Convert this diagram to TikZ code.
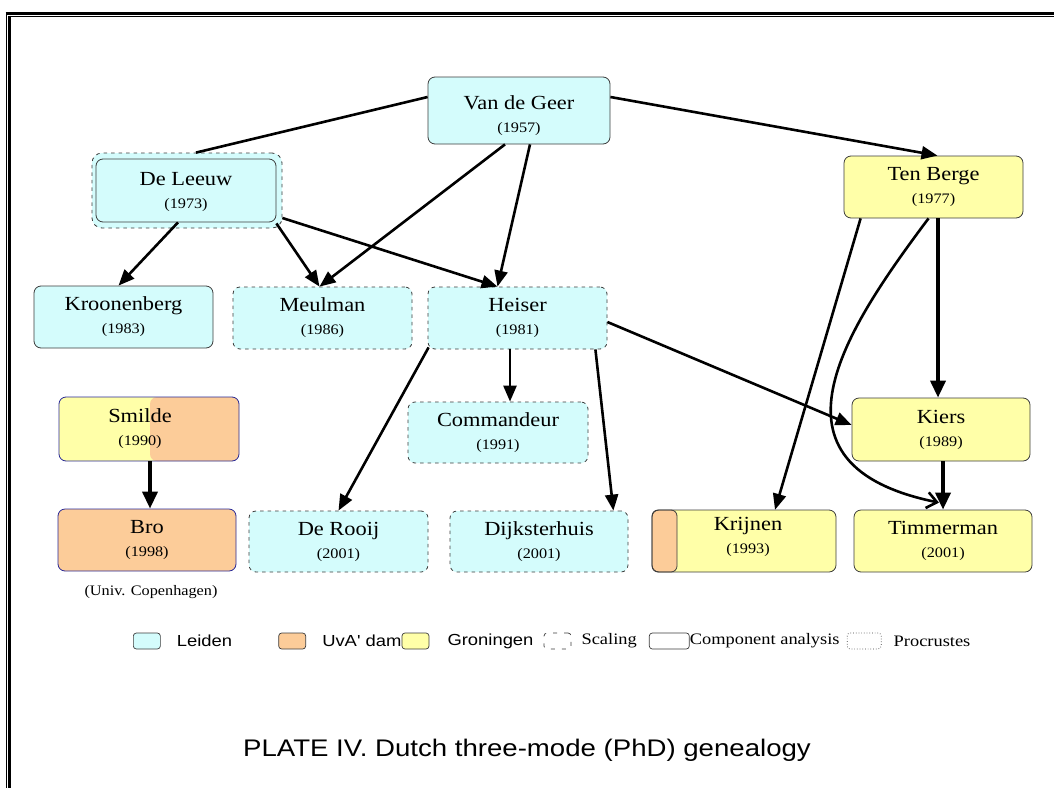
\documentclass[tikz,border=0pt]{standalone}
\usepackage{fontspec}
\setmainfont{Liberation Serif}
\newfontfamily\nmfam[FakeStretch=1.12]{Liberation Serif}
\newfontfamily\lgsans[FakeStretch=1.15]{Liberation Sans}
\newfontfamily\lgser[FakeStretch=1.15]{Liberation Serif}
\usetikzlibrary{arrows.meta,calc}
\definecolor{cyf}{RGB}{212,252,252}
\definecolor{yef}{RGB}{255,255,168}
\definecolor{orf}{RGB}{252,204,153}
\definecolor{navyb}{RGB}{40,40,150}
\definecolor{grb}{RGB}{60,60,60}
\newcommand{\nm}[2]{#1\\{\fontsize{14.5}{17}\selectfont #2}}
\begin{document}
\begin{tikzpicture}[x=1pt,y=-1pt,
  txt/.style={align=center,inner sep=0pt,font=\nmfam\fontsize{20}{23}\selectfont},
  box/.style={rectangle,rounded corners=7pt,txt},
  cy/.style={fill=cyf},
  ye/.style={fill=yef},
  orb/.style={fill=orf},
  comp/.style={draw=grb,line width=0.8pt},
  scal/.style={draw=grb,line width=0.8pt,dash pattern=on 3.5pt off 4pt},
  nav/.style={draw=navyb,line width=0.8pt},
  conn/.style={line width=2.6pt},
  arr/.style={conn,-{Triangle[length=16pt,width=13pt]}},
  tarr/.style={line width=3.6pt,-{Triangle[length=17pt,width=15pt]}},
  lgbox/.style={rectangle,rounded corners=3pt,minimum width=27pt,minimum height=16pt,inner sep=0pt,anchor=west},
  lgserf/.style={anchor=west,inner sep=0pt,font=\lgser\fontsize{16}{18}\selectfont},
  lgsan/.style={anchor=west,inner sep=0pt,font=\lgsans\fontsize{16}{18}\selectfont}
]
\useasboundingbox (0,0) rectangle (1054,787);
% frame
\draw[line width=2.6pt] (5.5,13.3) -- (1060,13.3);
\draw[line width=1pt] (8.5,16.2) -- (1060,16.2);
\draw[line width=1pt] (6.8,12) -- (6.8,795);
\draw[line width=2.6pt] (9.6,15.7) -- (9.6,795);

% nodes
\node[box,cy,comp,minimum width=182pt,minimum height=67pt] (vdg) at (519,110.5) {};
\node[txt] (vdgt) at (519,115.5) {\nm{Van de Geer}{(1957)}};
\node[box,cy,scal,minimum width=190pt,minimum height=75pt,rounded corners=10pt] (dlo) at (187,190.5) {};
\node[box,comp,minimum width=180pt,minimum height=63pt] (dl) at (186,190.5) {};
\node[txt] (dlt) at (186,192) {\nm{De Leeuw}{(1973)}};
\node[box,ye,comp,minimum width=179pt,minimum height=62pt] (tb) at (933.5,187) {\nm{Ten Berge}{(1977)}};
\node[box,cy,comp,minimum width=179pt,minimum height=62pt] (kro) at (123.5,317) {\nm{Kroonenberg}{(1983)}};
\node[box,cy,scal,minimum width=179pt,minimum height=62pt] (meu) at (322.5,318) {\nm{Meulman}{(1986)}};
\node[box,cy,scal,minimum width=179pt,minimum height=62pt] (hei) at (517.5,318) {\nm{Heiser}{(1981)}};
% Smilde (split colour)
\node[box,ye,minimum width=180pt,minimum height=64pt] (smi) at (149,429) {};
\fill[orf,rounded corners=7pt] (150,397) rectangle (239,461);
\node[box,nav,minimum width=180pt,minimum height=64pt] (smib) at (149,429) {};
\node[txt] (smit) at (140,429) {\nm{Smilde}{(1990)}};
\node[box,orb,nav,minimum width=178pt,minimum height=62pt] (bro) at (147,540) {\nm{Bro}{(1998)}};
\node[inner sep=0pt,font=\nmfam\fontsize{14.5}{16}\selectfont] (cph) at (151,592) {(Univ. Copenhagen)};
\node[box,cy,scal,minimum width=180pt,minimum height=61pt] (com) at (498,432.5) {\nm{Commandeur}{(1991)}};
\node[box,cy,scal,minimum width=179pt,minimum height=61pt] (dro) at (338.5,541.5) {\nm{De Rooij}{(2001)}};
\node[box,cy,scal,minimum width=178pt,minimum height=61pt] (dij) at (539,541.5) {\nm{Dijksterhuis}{(2001)}};
\node[box,ye,comp,minimum width=178pt,minimum height=63pt] (kie) at (941,429.5) {\nm{Kiers}{(1989)}};
% Krijnen (orange strip)
\node[box,ye,minimum width=184pt,minimum height=62pt] (kri) at (744,541) {};
\filldraw[fill=orf,draw=grb,line width=0.8pt,rounded corners=6pt] (652,510) rectangle (677,572);
\node[box,comp,minimum width=184pt,minimum height=62pt] (krib) at (744,541) {};
\node[txt] (krit) at (748,537) {\nm{Krijnen}{(1993)}};
\node[box,ye,comp,minimum width=178pt,minimum height=62pt] (tim) at (943,541) {\nm{Timmerman}{(2001)}};

% connectors
\draw[conn] ($(vdg.west)+(0,-13.5)$) -- ($(dlo.north)+(9,0)$);
\draw[arr] ($(vdg.south)+(-14,0)$) -- ($(meu.north)+(-3,0)$);
\draw[arr] ($(vdg.south)+(11,0)$) -- ($(hei.north)+(-20,0)$);
\draw[arr] ($(vdg.east)+(0,-13.5)$) -- ($(tb.north)+(4,0)$);
\draw[arr] ($(dl.south)+(-8,0)$) -- ($(kro.north)+(-5,0)$);
\draw[arr] ($(dl.south east)+(0,1)$) -- ($(meu.north)+(-3,0)$);
\draw[arr] ($(dlo.east)+(0,27.5)$) -- ($(hei.north)+(-20,0)$);
\draw[arr] ($(hei.east)+(0,4)$) -- ($(kie.west)+(0,-4.5)$);
\draw[arr] ($(hei.south)+(-7.5,0)$) -- ($(com.north)+(12,0)$);
\draw[arr] ($(hei.south west)+(1,-2)$) -- (dro.north);
\draw[arr] ($(hei.south east)+(-12,0)$) -- ($(dij.north east)+(-15,0)$);
\draw[tarr] ($(tb.south)+(4.5,0)$) -- ($(kie.north)+(-3,0)$);
\draw[arr] ($(tb.south west)+(17,0)$) -- ($(kri.north)+(31,0)$);
\draw[conn,-{Straight Barb[length=10pt,width=16pt]}] ($(tb.south)+(-5,0)$) .. controls (845,330) and (755,465) .. ($(tim.north)+(-4,-7)$);
\draw[tarr] ($(kie.south)+(2,0)$) -- (tim.north);
\draw[tarr] ($(smi.south)+(1,0)$) -- ($(bro.north)+(3,0)$);

% legend
\node[lgbox,fill=cyf,draw=grb,line width=0.7pt] (l1) at (133,641) {};
\node[lgsan] (t1) at ($(l1.east)+(16,0)$) {Leiden};
\node[lgbox,fill=orf,draw=grb,line width=0.7pt] (l2) at ($(t1.east)+(46,0)$) {};
\node[lgsan] (t2) at ($(l2.east)+(16,0)$) {UvA' dam};
\node[lgbox,fill=yef,draw=grb,line width=0.7pt] (l3) at (t2.east) {};
\node[lgsan] (t3) at ($(l3.east)+(18,0)$) {Groningen};
\node[lgbox,draw=grb,line width=0.7pt,dash pattern=on 4pt off 7pt] (l4) at ($(t3.east)+(10,0)$) {};
\node[lgserf] (t4) at ($(l4.east)+(10,0)$) {Scaling};
\node[lgbox,draw=grb,line width=0.7pt,minimum width=40pt] (l5) at ($(t4.east)+(12,0)$) {};
\node[lgserf] (t5) at (l5.east) {Component analysis};
\node[lgbox,draw=grb,line width=0.7pt,dotted,minimum width=34pt] (l6) at ($(t5.east)+(7,0)$) {};
\node[lgserf] (t6) at ($(l6.east)+(12,0)$) {Procrustes};

% title
\node[inner sep=0pt,font=\lgsans\fontsize{24}{28}\selectfont] (ttl) at (527,750) {PLATE IV. Dutch three-mode (PhD) genealogy};
\end{tikzpicture}
\end{document}
